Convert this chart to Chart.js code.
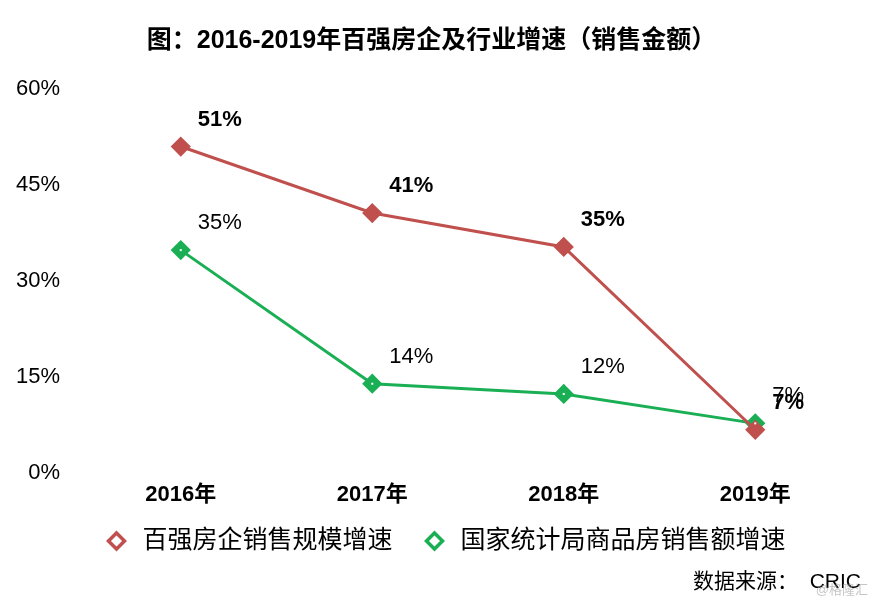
<!DOCTYPE html>
<html>
<head>
<meta charset="utf-8">
<script src="https://cdn.jsdelivr.net/npm/chart.js@4.4.0/dist/chart.umd.min.js"></script>
<style>
  html, body { margin: 0; padding: 0; background: #fff; }
  #wrap { width: 876px; height: 604px; position: relative; }
</style>
</head>
<body>
<div id="wrap"><canvas id="chart"></canvas></div>
<script>
// Data
const years = ["2016年", "2017年", "2018年", "2019年"];
const top100Growth = [51, 40.6, 35.3, 6.7];
const nationalGrowth = [34.8, 13.9, 12.3, 7.7];
const top100Labels = ["51%", "41%", "35%", "7%"];
const nationalLabels = ["35%", "14%", "12%", "7%"];
const yTicks = [0, 15, 30, 45, 60];

const FONT = "'Liberation Sans', 'Noto Sans CJK SC', sans-serif";
const RED = "#c0504d";
const GREEN = "#1aaf54";

// value labels next to each point
const pointLabels = {
  id: "pointLabels",
  afterDatasetsDraw(chart) {
    const ctx = chart.ctx;
    ctx.save();
    ctx.textAlign = "left";
    ctx.textBaseline = "middle";
    chart.data.datasets.forEach((ds, i) => {
      const meta = chart.getDatasetMeta(i);
      meta.data.forEach((pt, j) => {
        // little white dot in the green markers
        if (!ds.labelBold) {
          ctx.fillStyle = "#fff";
          ctx.fillRect(pt.x - 1, pt.y - 1, 2, 2);
        }
        ctx.fillStyle = "#000";
        ctx.font = (ds.labelBold ? "bold " : "") + "22px " + FONT;
        ctx.fillText(ds.valueLabels[j], pt.x + 17, pt.y - 27);
      });
    });
    ctx.restore();
  },
};

// legend (hollow diamonds) + source note + watermark
const bottomNotes = {
  id: "bottomNotes",
  afterDraw(chart) {
    const ctx = chart.ctx;
    ctx.save();
    ctx.font = "25px " + FONT;
    ctx.textBaseline = "middle";
    ctx.textAlign = "left";
    const items = chart.data.datasets.map((ds) => ({
      text: ds.label,
      color: ds.borderColor,
      w: ctx.measureText(ds.label).width,
    }));
    const half = 8;
    const textGap = 26;
    const itemGap = 42;
    let total = half + 2;
    items.forEach((it, i) => {
      total += textGap + it.w + (i < items.length - 1 ? itemGap : 0);
    });
    let cx = 446 - total / 2 + half + 2;
    const y = 541;
    items.forEach((it) => {
      ctx.beginPath();
      ctx.moveTo(cx, y - half);
      ctx.lineTo(cx + half, y);
      ctx.lineTo(cx, y + half);
      ctx.lineTo(cx - half, y);
      ctx.closePath();
      ctx.fillStyle = "#fff";
      ctx.fill();
      ctx.lineWidth = 3.5;
      ctx.strokeStyle = it.color;
      ctx.stroke();
      ctx.fillStyle = "#000";
      ctx.fillText(it.text, cx + textGap, y);
      cx = cx + textGap + it.w + itemGap;
    });

    ctx.textAlign = "right";
    ctx.fillStyle = "#000";
    ctx.font = "21px " + FONT;
    ctx.fillText("数据来源：  CRIC", 861, 582);
    ctx.fillStyle = "rgba(160,160,160,0.6)";
    ctx.font = "13px " + FONT;
    ctx.fillText("@格隆汇", 868, 590);
    ctx.restore();
  },
};

const ctx = document.getElementById("chart").getContext("2d");
new Chart(ctx, {
  type: "line",
  data: {
    labels: years,
    datasets: [
      {
        label: "百强房企销售规模增速",
        data: top100Growth,
        valueLabels: top100Labels,
        labelBold: true,
        borderColor: RED,
        backgroundColor: RED,
        borderWidth: 3,
        pointStyle: "rectRot",
        pointRadius: 8,
        pointHoverRadius: 8,
        tension: 0,
      },
      {
        label: "国家统计局商品房销售额增速",
        data: nationalGrowth,
        valueLabels: nationalLabels,
        labelBold: false,
        borderColor: GREEN,
        backgroundColor: GREEN,
        borderWidth: 3,
        pointStyle: "rectRot",
        pointRadius: 8,
        pointHoverRadius: 8,
        tension: 0,
      },
    ],
  },
  options: {
    responsive: true,
    maintainAspectRatio: false,
    animation: false,
    layout: { padding: { left: 12, right: 25, top: 0, bottom: 87 } },
    plugins: {
      title: {
        display: true,
        text: "图：2016-2019年百强房企及行业增速（销售金额）",
        color: "#000",
        font: { family: FONT, size: 25, weight: "bold" },
        padding: { top: 26, bottom: 33 },
      },
      legend: { display: false },
      tooltip: { enabled: false },
    },
    scales: {
      x: {
        offset: true,
        grid: { display: false, drawTicks: false },
        border: { display: false },
        ticks: {
          color: "#000",
          font: { family: FONT, size: 22, weight: "bold" },
          padding: 9,
        },
      },
      y: {
        min: 0,
        max: 60,
        grid: { display: false, drawTicks: false },
        border: { display: false },
        afterBuildTicks(scale) {
          scale.ticks = yTicks.map((v) => ({ value: v }));
        },
        afterFit(scale) {
          scale.width = 73;
        },
        ticks: {
          color: "#000",
          font: { family: FONT, size: 22 },
          padding: 25,
          callback: (v) => v + "%",
        },
      },
    },
  },
  plugins: [pointLabels, bottomNotes],
});
</script>
</body>
</html>
